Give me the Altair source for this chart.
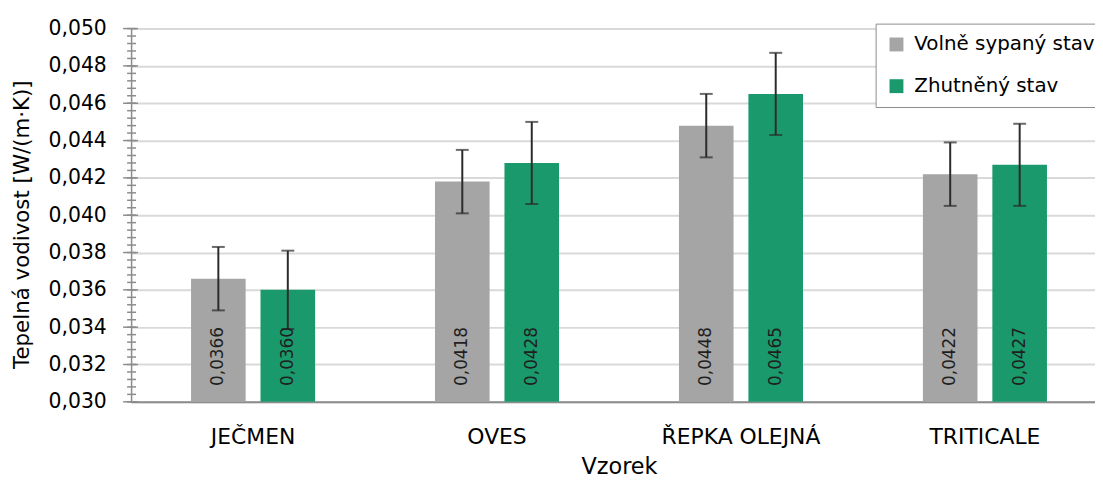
import altair as alt
import pandas as pd

categories = ["JEČMEN", "OVES", "ŘEPKA OLEJNÁ", "TRITICALE"]
series = ["Volně sypaný stav", "Zhutněný stav"]
loose_values = [0.0366, 0.0418, 0.0448, 0.0422]
compact_values = [0.0360, 0.0428, 0.0465, 0.0427]
loose_errors = [0.0017, 0.0017, 0.0017, 0.0017]
compact_errors = [0.0021, 0.0022, 0.0022, 0.0022]
y_major_ticks = [0.030, 0.032, 0.034, 0.036, 0.038, 0.040, 0.042, 0.044, 0.046, 0.048, 0.050]
y_minor_ticks = [round(0.030 + i * 0.0004, 4) for i in range(51)]
colors = ["#A5A5A5", "#1A9A6C"]

FONT = "DejaVu Sans"

rows = []
for i, cat in enumerate(categories):
    for s, vals, errs in ((series[0], loose_values, loose_errors), (series[1], compact_values, compact_errors)):
        v = vals[i]
        e = errs[i]
        rows.append({
            "category": cat,
            "series": s,
            "value": v,
            "lo": v - e,
            "hi": v + e,
            "label": f"{v:.4f}".replace(".", ","),
        })
df = pd.DataFrame(rows)
major_df = pd.DataFrame({"v": y_major_ticks})
minor_df = pd.DataFrame({"v": y_minor_ticks})

yscale = alt.Scale(domain=[0.030, 0.050], nice=False, zero=False)
yaxis = alt.Axis(
    values=y_major_ticks,
    labelExpr="replace(format(datum.value, '.3f'), '.', ',')",
    title="Tepelná vodivost [W/(m·K)]",
    ticks=False,
    tickSize=0,
    labelPadding=25,
    labelFont=FONT,
    labelFontSize=20.5,
    labelColor="#000000",
    titleFont=FONT,
    titleFontSize=21.5,
    titleFontWeight="normal",
    titleColor="#000000",
    titlePadding=15,
    titleY=197,
    domainColor="#8C8C8C",
    domainWidth=1.5,
    grid=True,
    gridColor="#D9D9D9",
    gridWidth=2,
)

xenc = alt.X(
    "category:N",
    sort=categories,
    scale=alt.Scale(paddingInner=0, paddingOuter=0, range=[0, 983]),
    axis=alt.Axis(
        title="Vzorek",
        labelAngle=0,
        ticks=False,
        tickSize=0,
        grid=False,
        domainColor="#8C8C8C",
        domainWidth=2,
        labelFont=FONT,
        labelFontSize=22,
        labelColor="#000000",
        labelPadding=25,
        titleFont=FONT,
        titleFontSize=22.5,
        titleFontWeight="normal",
        titleColor="#000000",
        titlePadding=8,
    ),
)
xoff = alt.XOffset("series:N", sort=series, scale=alt.Scale(paddingInner=0.214, paddingOuter=0.863))

bars = alt.Chart(df).mark_bar().encode(
    x=xenc,
    xOffset=xoff,
    y=alt.Y("value:Q", scale=yscale, axis=yaxis),
    y2=alt.datum(0.030),
    color=alt.Color(
        "series:N",
        sort=series,
        scale=alt.Scale(domain=series, range=colors),
        legend=alt.Legend(
            orient="none",
            legendX=750,
            legendY=-5,
            title=None,
            fillColor="white",
            strokeColor="#8C8C8C",
            padding=11,
            symbolType="square",
            symbolSize=196,
            symbolStrokeWidth=0,
            labelFont=FONT,
            labelFontSize=20,
            labelColor="#000000",
            labelOffset=8,
            labelLimit=500,
            rowPadding=22,
        ),
    ),
)

labels = alt.Chart(df).mark_text(
    angle=270, align="left", baseline="middle", dx=16, fontSize=17, font=FONT, color="#1F1F1F"
).encode(
    x=xenc,
    xOffset=xoff,
    y=alt.YDatum(0.030, scale=yscale, axis=yaxis),
    text="label:N",
)

err_rule = alt.Chart(df).mark_rule(color="#2B2B2B", strokeWidth=2).encode(
    x=xenc,
    xOffset=xoff,
    y=alt.Y("lo:Q", scale=yscale, axis=yaxis),
    y2="hi:Q",
)
cap_lo = alt.Chart(df).mark_tick(color="#2B2B2B", size=13, thickness=2).encode(
    x=xenc,
    xOffset=xoff,
    y=alt.Y("lo:Q", scale=yscale, axis=yaxis),
)
cap_hi = alt.Chart(df).mark_tick(color="#2B2B2B", size=13, thickness=2).encode(
    x=xenc,
    xOffset=xoff,
    y=alt.Y("hi:Q", scale=yscale, axis=yaxis),
)

major_ticks = alt.Chart(major_df).mark_rule(color="#8C8C8C", strokeWidth=1.5).encode(
    y=alt.Y("v:Q", scale=yscale, axis=yaxis),
    x=alt.value(-8),
    x2=alt.value(7),
)
minor_ticks = alt.Chart(minor_df).mark_rule(color="#8C8C8C", strokeWidth=1.5).encode(
    y=alt.Y("v:Q", scale=yscale, axis=yaxis),
    x=alt.value(-4),
    x2=alt.value(5),
)

chart = alt.layer(bars, err_rule, cap_lo, cap_hi, labels, minor_ticks, major_ticks).properties(
    width=971,
    height=376,
    autosize=alt.AutoSizeParams(type="none"),
    padding={"left": 124, "top": 19, "right": 0, "bottom": 76},
).configure_view(stroke=None).configure(font=FONT)

chart.save("out.html", embed_options={"renderer": "svg", "actions": False})
